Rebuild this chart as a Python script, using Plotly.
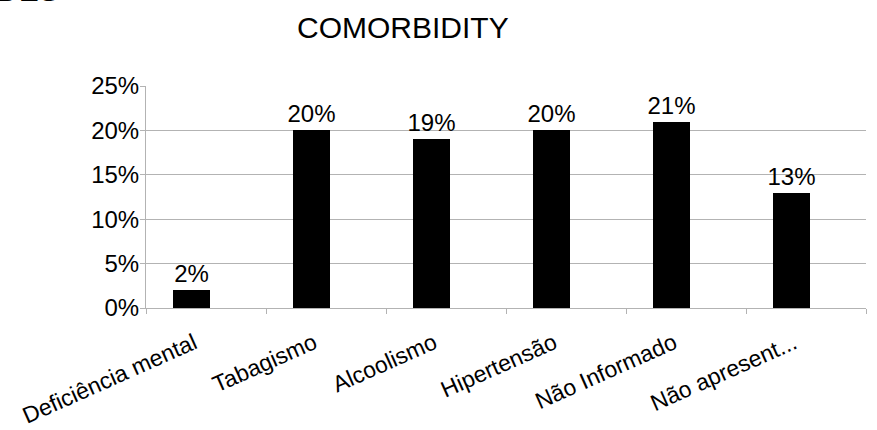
import plotly.graph_objects as go

categories = ["Deficiência mental", "Tabagismo", "Alcoolismo", "Hipertensão", "Não Informado", "Não apresent..."]
values = [0.02, 0.20, 0.19, 0.20, 0.21, 0.13]
value_labels = ["2%", "20%", "19%", "20%", "21%", "13%"]
y_ticks = [0, 0.05, 0.10, 0.15, 0.20, 0.25]
y_tick_labels = ["0%", "5%", "10%", "15%", "20%", "25%"]
title_text = "COMORBIDITY"
corner_text = "DES"

FONT = "Liberation Sans, Arial, sans-serif"
GRID = "#b3b3b3"

fig = go.Figure()
fig.add_trace(go.Bar(
    x=categories, y=values,
    marker=dict(color="#000000", line=dict(width=0)),
    width=0.308, offset=-0.275,
    text=value_labels, textposition="outside",
    constraintext="none",
    textfont=dict(family=FONT, size=24, color="#000000"),
    cliponaxis=False,
))

fig.update_layout(
    width=877, height=430,
    margin=dict(l=146, r=11, t=86, b=122, autoexpand=False),
    paper_bgcolor="#ffffff", plot_bgcolor="#ffffff",
    showlegend=False,
    font=dict(family=FONT, size=24, color="#000000"),
    bargap=0,
    annotations=[
        dict(text=title_text, xref="paper", yref="paper", x=0.3576, y=1.265,
             xanchor="center", yanchor="middle", showarrow=False,
             font=dict(family=FONT, size=30, color="#000000")),
        dict(text=corner_text, xref="paper", yref="paper", x=-0.21, y=1.345,
             xanchor="left", yanchor="bottom", showarrow=False,
             font=dict(family=FONT, size=30, color="#000000")),
    ],
)
fig.update_xaxes(
    type="category", tickangle=-24, automargin=False,
    showline=True, linecolor=GRID, linewidth=1,
    ticks="outside", tickson="boundaries", ticklen=5, tickcolor=GRID,
    showgrid=False,
    ticklabelstandoff=12, ticklabelshift=-12,
    tickfont=dict(family=FONT, size=23, color="#000000"),
)
fig.update_yaxes(
    range=[0, 0.25], tickvals=y_ticks, ticktext=y_tick_labels,
    automargin=False,
    showline=True, linecolor=GRID, linewidth=1,
    ticks="outside", ticklen=5, tickcolor=GRID,
    showgrid=True, gridcolor=GRID, gridwidth=1,
    zeroline=False, ticklabelstandoff=-4,
    tickfont=dict(family=FONT, size=24, color="#000000"),
)

fig.write_html("out.html")
